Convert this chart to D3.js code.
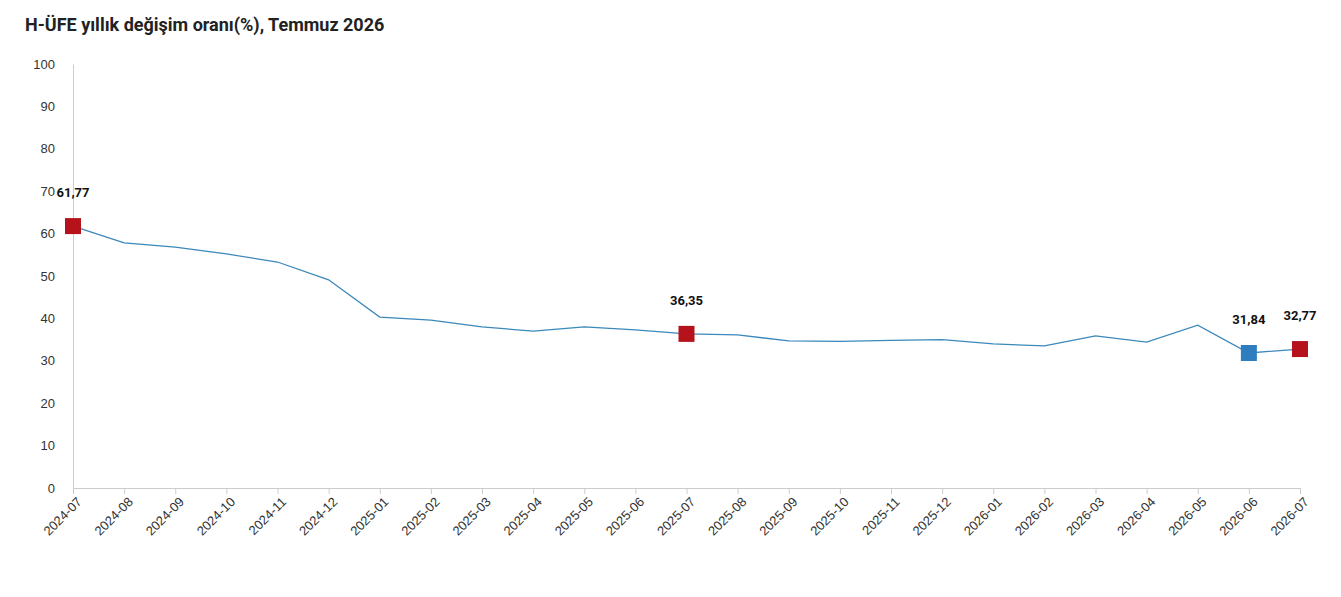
<!doctype html>
<html lang="en">
<head>
  <meta charset="utf-8">
  <title>H-ÜFE</title>
  <script src="https://cdnjs.cloudflare.com/ajax/libs/d3/7.8.5/d3.min.js"></script>
  <style>
    body { margin: 0; background: #fff; font-family: Roboto, "Noto Sans", sans-serif; }
    .axis text { font-size: 13px; fill: #333; }
    .axis path, .axis line { stroke: #ccc; }
  </style>
</head>
<body>
<svg id="chart" width="1341" height="597"></svg>
<script>
const months = ["2024-07","2024-08","2024-09","2024-10","2024-11","2024-12","2025-01","2025-02","2025-03","2025-04","2025-05","2025-06","2025-07","2025-08","2025-09","2025-10","2025-11","2025-12","2026-01","2026-02","2026-03","2026-04","2026-05","2026-06","2026-07"];
const values = [61.77,57.8,56.8,55.2,53.3,49.1,40.3,39.6,38.0,37.0,38.0,37.3,36.35,36.1,34.7,34.6,34.8,35.0,34.0,33.5,35.9,34.4,38.4,31.84,32.77];
const highlights = [
  { month: "2024-07", color: "#b5121b" },
  { month: "2025-07", color: "#b5121b" },
  { month: "2026-06", color: "#2e7dbf" },
  { month: "2026-07", color: "#b5121b" }
];
const yTicks = [0,10,20,30,40,50,60,70,80,90,100];

const svg = d3.select("#chart");
const m = { left: 73, right: 41, top: 64, bottom: 109 };
const W = 1341, H = 597;

svg.append("text").attr("x", 25).attr("y", 31)
  .attr("font-size", 18).attr("font-weight", "bold").attr("fill", "#222")
  .text("H-ÜFE yıllık değişim oranı(%), Temmuz 2026");

const x = d3.scalePoint().domain(months).range([m.left, W - m.right]);
const y = d3.scaleLinear().domain([0, 100]).range([H - m.bottom, m.top]);

svg.append("g").attr("class", "axis")
  .attr("transform", `translate(${m.left},0)`)
  .call(d3.axisLeft(y).tickValues(yTicks).tickSize(0).tickPadding(18))
  .call(g => g.selectAll("text").attr("font-size", 14));

svg.append("g").attr("class", "axis")
  .attr("transform", `translate(0,${H - m.bottom})`)
  .call(d3.axisBottom(x).tickSize(6).tickSizeOuter(0))
  .selectAll("text")
  .attr("text-anchor", "end")
  .attr("dx", "-0.3em").attr("dy", "0.6em")
  .attr("transform", "rotate(-45)");

const data = months.map((d, i) => ({ month: d, value: values[i] }));
svg.append("path").datum(data)
  .attr("fill", "none").attr("stroke", "#3b88bb").attr("stroke-width", 1.3)
  .attr("d", d3.line().x(d => x(d.month)).y(d => y(d.value)));

const hl = highlights.map(h => ({ ...h, value: values[months.indexOf(h.month)] }));
svg.selectAll(".mk").data(hl).enter().append("rect")
  .attr("x", d => x(d.month) - 8).attr("y", d => y(d.value) - 8)
  .attr("width", 16).attr("height", 16).attr("fill", d => d.color);
svg.selectAll(".lb").data(hl).enter().append("text")
  .attr("x", d => x(d.month)).attr("y", d => y(d.value) - 29)
  .attr("text-anchor", "middle").attr("font-size", 13).attr("font-weight", "bold").attr("fill", "#111")
  .text(d => d.value.toFixed(2).replace(".", ","));
</script>
</body>
</html>
